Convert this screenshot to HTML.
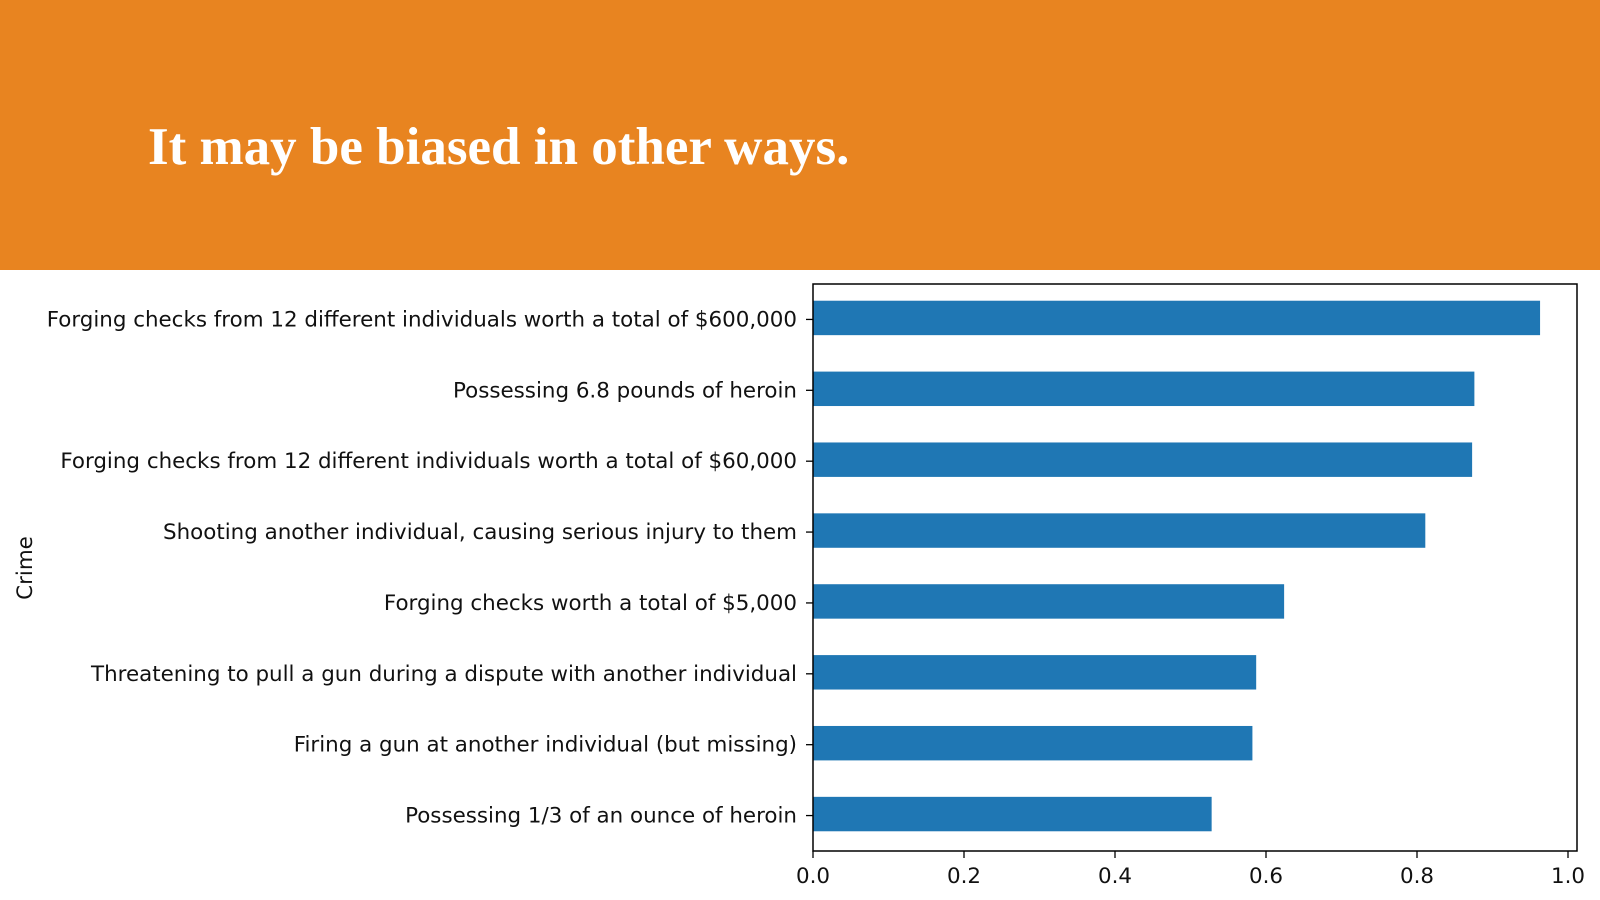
<!DOCTYPE html>
<html><head><meta charset="utf-8"><style>
body{margin:0;width:1600px;height:900px;overflow:hidden;background:#fff;font-family:"DejaVu Sans","Liberation Sans",sans-serif}
#hdr{position:absolute;left:0;top:0;width:1600px;height:270px;background:#e88420}
#title{position:absolute;left:148px;top:117px;font-family:"Liberation Serif",serif;font-weight:bold;font-size:53px;color:#fff;white-space:nowrap}
svg{position:absolute;left:0;top:0}
</style></head><body>
<div id="hdr"></div>
<div id="title">It may be biased in other ways.</div>
<svg id="chart" width="1600" height="900"></svg>
<script>
const categories=["Forging checks from 12 different individuals worth a total of $600,000","Possessing 6.8 pounds of heroin","Forging checks from 12 different individuals worth a total of $60,000","Shooting another individual, causing serious injury to them","Forging checks worth a total of $5,000","Threatening to pull a gun during a dispute with another individual","Firing a gun at another individual (but missing)","Possessing 1/3 of an ounce of heroin"];
const values=[0.963,0.876,0.873,0.811,0.624,0.587,0.582,0.528];
const ticks=[0,0.2,0.4,0.6,0.8,1.0];
const tickLabels=["0.0","0.2","0.4","0.6","0.8","1.0"];
const NS="http://www.w3.org/2000/svg";
const svg=document.getElementById('chart');
const L=813,R=1577,T=284,B=851,x1=1568;
const xs=v=>L+v*(x1-L);
const step=(B-T)/categories.length;
const yc=i=>T+step*(i+0.5);
function mk(t,a){const e=document.createElementNS(NS,t);for(const k in a)e.setAttribute(k,a[k]);svg.appendChild(e);return e;}
values.forEach((v,i)=>{
 const r=mk('rect',{x:L,y:yc(i)-step/4-1,width:xs(v)-L,height:step/2-1,fill:'#1f77b4'});
 
 
 mk('line',{x1:L-7,x2:L,y1:yc(i),y2:yc(i),stroke:'#000','stroke-width':1.3});
 const t=mk('text',{x:L-16,y:yc(i)+7,'text-anchor':'end','font-size':21.4,fill:'#111'});
 t.textContent=categories[i];
 
 
});
ticks.forEach((v,i)=>{
 mk('line',{x1:xs(v),x2:xs(v),y1:B,y2:B+7,stroke:'#000','stroke-width':1.3});
 const t=mk('text',{x:xs(v),y:B+32,'text-anchor':'middle','font-size':21.4,fill:'#111'});
 t.textContent=tickLabels[i];
 
 
});
const f=mk('rect',{x:L,y:T,width:R-L,height:B-T,fill:'none',stroke:'#000','stroke-width':1.5});


const yl=mk('text',{x:0,y:0,transform:'translate(32,568) rotate(-90)','text-anchor':'middle','font-size':21.4,fill:'#111'});
yl.textContent='Crime';


</script>
</body></html>
